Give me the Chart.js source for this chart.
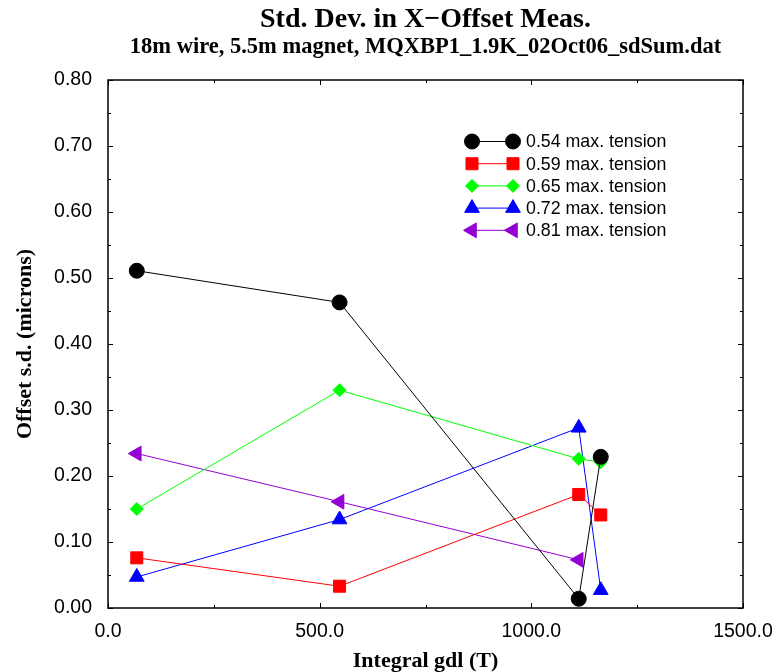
<!DOCTYPE html>
<html>
<head>
<meta charset="utf-8">
<script src="https://cdn.jsdelivr.net/npm/chart.js@4"></script>
<style>
  body { margin: 0; background: #fff; }
</style>
</head>
<body>
<canvas id="myChart" width="780" height="672"></canvas>
<script>
const seriesLabels = ["0.54 max. tension", "0.59 max. tension", "0.65 max. tension", "0.72 max. tension", "0.81 max. tension"];
const gdl = [68, 547, 1112, 1164];

const sd054 = [0.511, 0.463, 0.014, 0.229];
const sd059 = [0.076, 0.033, 0.172, 0.141];
const sd065 = [0.150, 0.330, 0.226, 0.221];
const sd072 = [0.047, 0.134, 0.273, 0.027];
const sd081 = [0.234, 0.161, 0.073];

const xTicks = [0, 500, 1000, 1500];
const yTicks = [0, 0.1, 0.2, 0.3, 0.4, 0.5, 0.6, 0.7, 0.8];

const colors = ["#000000", "#ff0000", "#00ff00", "#0000ff", "#9400d3"];
const shapes = ["circle", "rect", "rectRot", "triangle", "triangle"];
const radii = [7.5, 8.5, 6.5, 8.5, 8.5];
const rotations = [0, 0, 0, 0, -90];

function pts(ys) {
  return ys.map((y, i) => ({ x: gdl[i], y: y }));
}
const allData = [sd054, sd059, sd065, sd072, sd081];

const serif = '"Liberation Serif", "Times New Roman", serif';
const sans = '"Liberation Sans", Arial, sans-serif';
Chart.defaults.font.family = sans;
Chart.defaults.color = "#000";

// frame with inward ticks on all four sides
const frame = {
  id: "frame",
  beforeDatasetsDraw(chart) {
    const { ctx, chartArea: a, scales } = chart;
    ctx.save();
    ctx.strokeStyle = "#000";
    ctx.lineWidth = 1;
    for (let v = 0; v <= 1500; v += 250) {
      const x = Math.round(scales.x.getPixelForValue(v)) + 0.5;
      const len = v % 500 === 0 ? 5 : 3;
      ctx.beginPath();
      ctx.moveTo(x, a.bottom); ctx.lineTo(x, a.bottom - len);
      ctx.moveTo(x, a.top); ctx.lineTo(x, a.top + len);
      ctx.stroke();
    }
    for (let i = 0; i <= 16; i++) {
      const y = Math.round(scales.y.getPixelForValue(i * 0.05)) + 0.5;
      const len = i % 2 === 0 ? 5 : 3;
      ctx.beginPath();
      ctx.moveTo(a.left, y); ctx.lineTo(a.left + len, y);
      ctx.moveTo(a.right, y); ctx.lineTo(a.right - len, y);
      ctx.stroke();
    }
    ctx.lineWidth = 1.5;
    ctx.strokeRect(a.left, a.top, a.right - a.left, a.bottom - a.top);
    ctx.restore();
  }
};

// legend: line with a marker at each end
const lineLegend = {
  id: "lineLegend",
  afterDraw(chart) {
    const { ctx } = chart;
    ctx.save();
    chart.data.datasets.forEach((ds, i) => {
      const y = 141.5 + i * 22.2;
      const x1 = 472, x2 = 513;
      ctx.strokeStyle = ds.borderColor;
      ctx.lineWidth = 1;
      ctx.beginPath();
      ctx.moveTo(x1, y); ctx.lineTo(x2, y);
      ctx.stroke();
      const opts = { pointStyle: ds.pointStyle, radius: ds.pointRadius, rotation: ds.pointRotation, borderWidth: 1 };
      ctx.fillStyle = ds.backgroundColor;
      [x1, x2].forEach(x => Chart.helpers.drawPoint(ctx, opts, x, y));
      ctx.fillStyle = "#000";
      ctx.font = "17.8px " + sans;
      ctx.textBaseline = "middle";
      ctx.fillText(ds.label, 526, y + 1);
    });
    ctx.restore();
  }
};

new Chart("myChart", {
  type: "scatter",
  data: {
    datasets: allData.map((ys, i) => ({
      label: seriesLabels[i],
      data: pts(ys),
      showLine: true,
      borderColor: colors[i],
      backgroundColor: colors[i],
      borderWidth: 1,
      pointStyle: shapes[i],
      pointRadius: radii[i],
      pointHoverRadius: radii[i],
      pointRotation: rotations[i],
      pointBorderWidth: 1,
    })),
  },
  options: {
    responsive: false,
    animation: false,
    layout: { padding: { left: 0, right: 37, top: 0, bottom: 0 } },
    plugins: {
      legend: { display: false },
      tooltip: { enabled: false },
      title: {
        display: true,
        fullSize: false,
        text: "Std. Dev. in X\u2212Offset Meas.",
        font: { family: serif, size: 28, weight: "bold", lineHeight: 1 },
        color: "#000",
        padding: { top: 6, bottom: 0 },
      },
      subtitle: {
        display: true,
        fullSize: false,
        text: "18m wire, 5.5m magnet, MQXBP1_1.9K_02Oct06_sdSum.dat",
        font: { family: serif, size: 22.5, weight: "bold", lineHeight: 1 },
        color: "#000",
        padding: { top: 2, bottom: 21.5 },
      },
    },
    scales: {
      x: {
        type: "linear",
        min: 0,
        max: 1500,
        afterFit(s) { s.height = 64; s.paddingLeft = 0; s.paddingRight = 0; },
        afterBuildTicks(s) { s.ticks = xTicks.map(v => ({ value: v })); },
        grid: { display: false, drawTicks: false },
        border: { display: false },
        ticks: { padding: 12, font: { size: 19.5 }, color: "#000", callback: v => v.toFixed(1) },
        title: {
          display: true,
          text: "Integral gdl (T)",
          font: { family: serif, size: 22, weight: "bold", lineHeight: 1 },
          color: "#000",
          padding: { top: 0, bottom: 0 },
        },
      },
      y: {
        type: "linear",
        min: 0,
        max: 0.8,
        afterFit(s) { s.width = 108; s.paddingTop = 0; s.paddingBottom = 0; },
        afterBuildTicks(s) { s.ticks = yTicks.map(v => ({ value: v })); },
        grid: { display: false, drawTicks: false },
        border: { display: false },
        ticks: { padding: 16, font: { size: 19.5 }, color: "#000", callback: v => v.toFixed(2) },
        title: {
          display: true,
          text: "Offset s.d. (microns)",
          font: { family: serif, size: 22, weight: "bold" },
          color: "#000",
          padding: { top: 12, bottom: 0 },
        },
      },
    },
  },
  plugins: [frame, lineLegend],
});
</script>
</body>
</html>
